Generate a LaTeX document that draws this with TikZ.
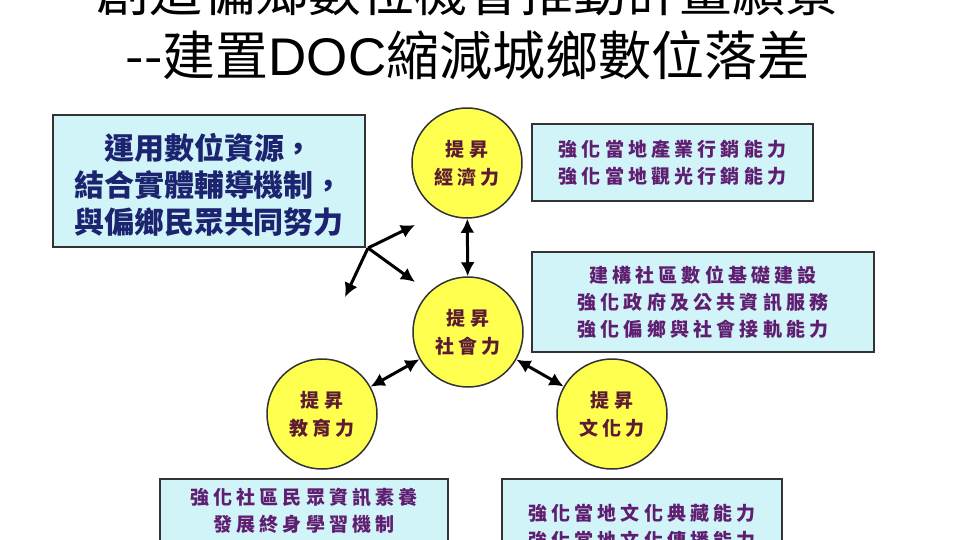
\documentclass[tikz,border=0pt]{standalone}
\usepackage{fontspec}
\setmainfont{Liberation Sans}
\newfontfamily\titlefont{Noto Sans CJK TC}
\newfontfamily\cjkfont{Noto Sans CJK TC}
\newfontfamily\cjkspaced[LetterSpace=22]{Noto Sans CJK TC}
\usetikzlibrary{arrows.meta}
\definecolor{boxfill}{HTML}{D0F4F8}
\definecolor{ringfill}{HTML}{FFFF50}
\definecolor{ringtext}{HTML}{5C1A33}
\definecolor{infotext}{HTML}{601E70}
\definecolor{missiontext}{HTML}{1C2470}
\definecolor{edge}{HTML}{333333}
\begin{document}
\begin{tikzpicture}[x=1pt,y=-1pt,
    ring/.style={circle, draw=edge, line width=1.5pt, fill=ringfill, minimum size=110pt, inner sep=0pt,
      align=center, text=ringtext, font=\cjkspaced\bfseries\fontsize{19}{28}\selectfont},
    infobox/.style={draw=edge, line width=2pt, fill=boxfill, inner sep=0pt},
    infotxt/.style={align=center, text=infotext, font=\cjkspaced\bfseries\fontsize{19}{27}\selectfont},
    link/.style={{Latex[length=14pt,width=14pt]}-{Latex[length=14pt,width=14pt]}, line width=3pt},
    push/.style={-{Latex[length=14pt,width=14pt]}, line width=3pt}]
  \clip (0,0) rectangle (964,540);
  \fill[white] (0,0) rectangle (964,540);

  % title, first line cut by the top edge
  \node[anchor=base, font=\titlefont\fontsize{53}{60}\selectfont] (title1) at (467,12) {創造偏鄉數位機會推動計畫願景};
  \node[anchor=base, font=\titlefont\fontsize{53}{60}\selectfont] (title2) at (468,76) {--建置{\rmfamily DOC}縮減城鄉數位落差};

  % mission box
  \node[infobox, minimum width=312pt, minimum height=132pt] (mission) at (209,181) {};
  \node[align=center, text=missiontext, font=\cjkfont\bfseries\fontsize{30}{37}\selectfont] (missiontxt) at (209,185)
    {運用數位資源，\\結合實體輔導機制，\\與偏鄉民眾共同努力};

  % four rings
  \node[ring] (econ) at (467,163) {提昇\\經濟力};
  \node[ring] (social) at (468,332) {提昇\\社會力};
  \node[ring] (edu) at (322,414) {提昇\\教育力};
  \node[ring] (culture) at (612,414) {提昇\\文化力};

  % boxes beside the rings
  \node[infobox, minimum width=281pt, minimum height=77pt] (econbox) at (672.5,162.5) {};
  \node[infotxt] (econtxt) at (econbox) {強化當地產業行銷能力\\強化當地觀光行銷能力};
  \node[infobox, minimum width=342pt, minimum height=100pt] (socialbox) at (703,302) {};
  \node[infotxt] (socialtxt) at (socialbox) {建構社區數位基礎建設\\強化政府及公共資訊服務\\強化偏鄉與社會接軌能力};
  \node[infobox, minimum width=288pt, minimum height=130pt, anchor=north] (edubox) at (304,478) {};
  \node[infotxt, anchor=north] (edutxt) at ([yshift=-7pt]edubox.north) {強化社區民眾資訊素養\\發展終身學習機制};
  \node[infobox, minimum width=280pt, minimum height=130pt, anchor=north] (culturebox) at (642,478) {};
  \node[infotxt, anchor=north] (culturetxt) at ([yshift=-22pt]culturebox.north) {強化當地文化典藏能力\\強化當地文化傳播能力};

  % arrows
  \draw[link] (econ) -- (social);
  \draw[link] (social) -- (edu);
  \draw[link] (social) -- (culture);
  \coordinate (hub) at ([shift={(2,0)}]mission.south east);
  \coordinate (toecon) at (415,225);
  \coordinate (tosocial) at (415,282);
  \coordinate (todown) at (345,297);
  \foreach \t in {toecon, tosocial, todown}
    {\draw[push] (hub) -- (\t);}
\end{tikzpicture}
\end{document}
